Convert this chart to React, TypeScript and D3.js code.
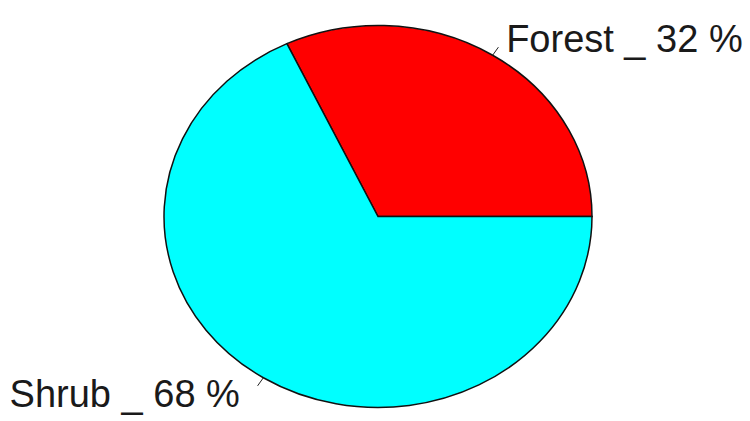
import React from "react";
import * as d3 from "d3";

const categories = ["Forest", "Shrub"];
const percents = [32, 68];
const colors = ["#FF0000", "#00FFFF"];

const W = 750;
const H = 421;
const cx = 378;
const cy = 216.5;
const rx = 214;
const ry = 191;

export default function App() {
  const pie = d3
    .pie<number>()
    .sort(null)
    .value((d) => d)
    .startAngle(Math.PI / 2)
    .endAngle(Math.PI / 2 - 2 * Math.PI);
  const arcs = pie(percents);
  const arc = d3.arc<d3.PieArcDatum<number>>().innerRadius(0).outerRadius(rx);
  const sy = ry / rx;

  const pt = (a: number, k: number) => {
    return [cx + Math.sin(a) * rx * k, cy - Math.cos(a) * ry * k];
  };

  return (
    <div style={{ position: "fixed", left: 0, top: 0, width: W, height: H, background: "#fff" }}>
      <svg width={W} height={H} style={{ display: "block" }}>
        <rect width={W} height={H} fill="#fff" />
        <g transform={`translate(${cx},${cy}) scale(1,${sy})`}>
          {arcs.map((a, i) => (
            <path
              key={categories[i]}
              d={arc(a) || ""}
              fill={colors[i]}
              stroke="#111"
              strokeWidth={1.5}
              vectorEffect="non-scaling-stroke"
            />
          ))}
        </g>
        {arcs.map((a, i) => {
          const mid = (a.startAngle + a.endAngle) / 2;
          const [x0, y0] = pt(mid, 1.0);
          const [x1, y1] = pt(mid, 1.05);
          const [lx, ly] = pt(mid, 1.1);
          const right = Math.sin(mid) >= 0;
          return (
            <g key={"lab" + i}>
              <line x1={x0} y1={y0} x2={x1} y2={y1} stroke="#222" strokeWidth={1} />
              <text
                x={right ? lx + 2 : lx - 12}
                y={ly}
                dy="0.35em"
                textAnchor={right ? "start" : "end"}
                fontFamily="'Liberation Sans', Arial, sans-serif"
                fontSize={38}
                fill="#1a1a1a"
              >
                {`${categories[i]} _ ${percents[i]} %`}
              </text>
            </g>
          );
        })}
      </svg>
    </div>
  );
}
